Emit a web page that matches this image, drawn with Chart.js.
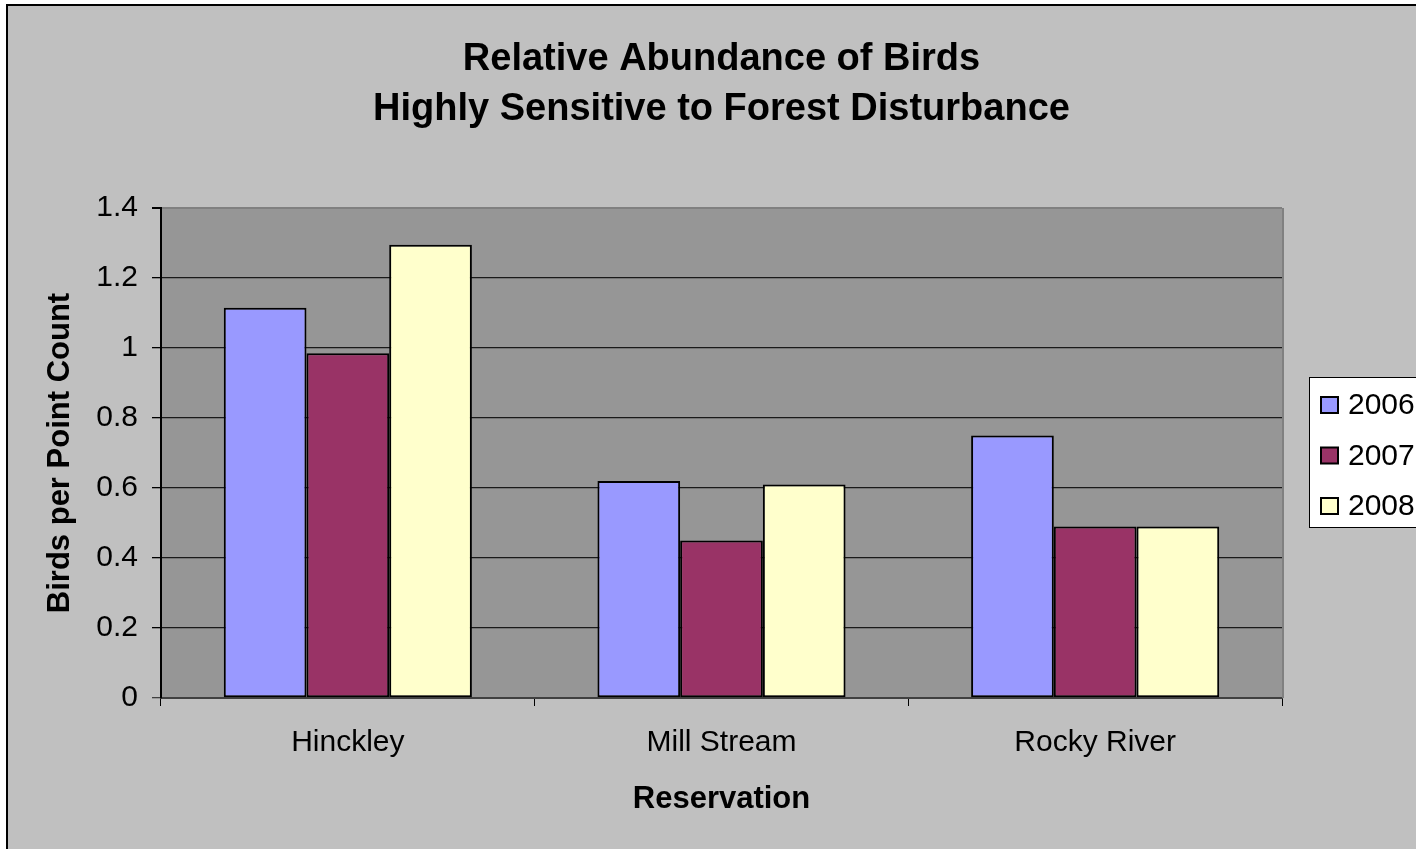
<!DOCTYPE html>
<html>
<head>
<meta charset="utf-8">
<script src="https://cdn.jsdelivr.net/npm/chart.js@4.4.1/dist/chart.umd.min.js"></script>
<style>
  html, body { margin: 0; padding: 0; background: #ffffff; overflow: hidden; }
  #wrap { position: absolute; left: 0; top: 0; width: 1416px; height: 849px; }
</style>
</head>
<body>
<div id="wrap"><canvas id="chart" width="1416" height="849"></canvas></div>
<script>
// Reservations surveyed
const categories = ['Hinckley', 'Mill Stream', 'Rocky River'];
// Survey years
const years = ['2006', '2007', '2008'];
// Birds per point count, one array per year (same order as categories)
const values2006 = [1.115, 0.62, 0.75];
const values2007 = [0.985, 0.45, 0.49];
const values2008 = [1.295, 0.61, 0.49];
// Y-axis tick labels, 0 to 1.4 in steps of 0.2
const yTickLabels = ['0', '0.2', '0.4', '0.6', '0.8', '1', '1.2', '1.4'];

const FONT = "'Liberation Sans', Arial, Helvetica, sans-serif";
const yearColors = ['#9999FF', '#993366', '#FFFFCC'];

// Window background, grey chart panel with black frame, grey plot area
const backgroundPlugin = {
  id: 'panelBackground',
  beforeDraw(chart) {
    const { ctx, width, height, chartArea: a } = chart;
    ctx.save();
    ctx.fillStyle = '#ffffff';
    ctx.fillRect(0, 0, width, height);
    ctx.fillStyle = '#C0C0C0';
    ctx.fillRect(7, 5, width - 7, height - 5);
    ctx.fillStyle = '#000000';
    ctx.fillRect(6, 4, 2, height - 4);
    ctx.fillRect(6, 4, width - 6, 2);
    ctx.fillStyle = '#969696';
    ctx.fillRect(a.left, a.top, a.right - a.left, a.bottom - a.top);
    ctx.restore();
  },
  afterDatasetsDraw(chart) {
    const { ctx, chartArea: a } = chart;
    ctx.save();
    ctx.strokeStyle = '#808080';
    ctx.lineWidth = 2;
    ctx.beginPath();
    ctx.moveTo(a.right + 1, a.top);
    ctx.lineTo(a.right + 1, a.bottom);
    ctx.stroke();
    ctx.restore();
  }
};

// Boxed legend to the right of the plot
const boxLegendPlugin = {
  id: 'boxLegend',
  afterDraw(chart) {
    const { ctx } = chart;
    const x = 1309, y = 377, w = 120, h = 150;
    ctx.save();
    ctx.fillStyle = '#ffffff';
    ctx.fillRect(x, y, w, h);
    ctx.strokeStyle = '#000000';
    ctx.lineWidth = 1;
    ctx.strokeRect(x + 0.5, y + 0.5, w, h);
    ctx.font = '30px ' + FONT;
    ctx.textBaseline = 'middle';
    ctx.textAlign = 'left';
    chart.data.datasets.forEach((ds, i) => {
      const cy = y + 28 + i * 50.5;
      ctx.fillStyle = ds.backgroundColor;
      ctx.fillRect(x + 12, cy - 8, 17, 16);
      ctx.strokeStyle = '#000000';
      ctx.lineWidth = 2;
      ctx.strokeRect(x + 12, cy - 8, 17, 16);
      ctx.fillStyle = '#000000';
      ctx.fillText(ds.label, x + 39, cy + 1);
    });
    ctx.restore();
  }
};

const seriesValues = [values2006, values2007, values2008];

new Chart(document.getElementById('chart'), {
  type: 'bar',
  data: {
    labels: categories,
    datasets: years.map((yr, i) => ({
      label: yr,
      data: seriesValues[i],
      backgroundColor: yearColors[i],
      borderColor: '#000000',
      borderWidth: 2,
      borderSkipped: false,
      categoryPercentage: 0.664,
      barPercentage: 1.0
    }))
  },
  options: {
    responsive: false,
    animation: false,
    devicePixelRatio: 1,
    layout: { padding: { left: 0, right: 134, top: 0, bottom: 0 } },
    plugins: {
      legend: { display: false },
      tooltip: { enabled: false },
      title: {
        display: true,
        fullSize: false,
        text: ['Relative Abundance of Birds', 'Highly Sensitive to Forest Disturbance'],
        color: '#000000',
        font: { family: FONT, size: 38, weight: 'bold', lineHeight: '50px' },
        padding: { top: 35, bottom: 73 }
      }
    },
    scales: {
      x: {
        offset: true,
        grid: {
          offset: true,
          drawOnChartArea: false,
          drawTicks: true,
          tickLength: 8,
          color: '#000000'
        },
        border: { display: true, color: '#404040', width: 2 },
        ticks: { color: '#000000', font: { family: FONT, size: 30 }, padding: 19, maxRotation: 0 },
        title: {
          display: true,
          text: 'Reservation',
          color: '#000000',
          font: { family: FONT, size: 31, weight: 'bold', lineHeight: 1.2 },
          padding: { top: 0, bottom: 31 }
        },
        afterFit(scale) { scale.height = 151; }
      },
      y: {
        min: 0,
        max: 1.4,
        ticks: {
          stepSize: 0.2,
          color: '#000000',
          font: { family: FONT, size: 30 },
          padding: 14,
          callback: (v, i) => yTickLabels[i]
        },
        grid: {
          color: (c) => (c.tick && Math.abs(c.tick.value - 1.4) < 1e-9) ? '#808080' : '#1a1a1a',
          tickColor: (c) => (c.tick && c.tick.value === 0) ? '#404040' : '#000000',
          lineWidth: (c) => (c.tick && Math.abs(c.tick.value - 1.4) < 1e-9) ? 2 : 1.3,
          tickLength: 9
        },
        border: { display: true, color: '#000000', width: 2 },
        title: {
          display: true,
          text: 'Birds per Point Count',
          color: '#000000',
          font: { family: FONT, size: 31, weight: 'bold', lineHeight: 1.2 },
          padding: { top: 42, bottom: 0 }
        },
        afterFit(scale) { scale.width = 161; }
      }
    }
  },
  plugins: [backgroundPlugin, boxLegendPlugin]
});
</script>
</body>
</html>
